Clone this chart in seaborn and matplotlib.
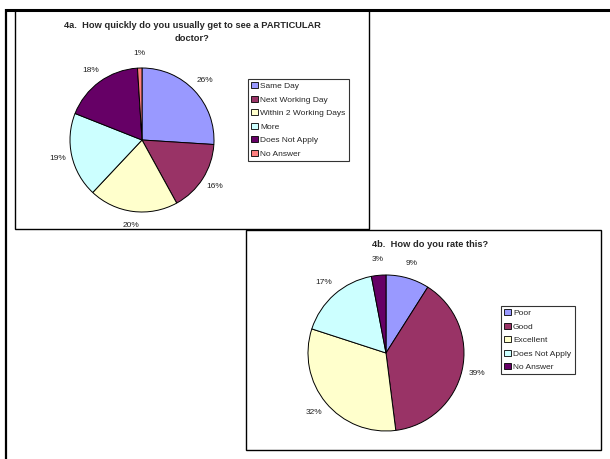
import matplotlib
matplotlib.use("Agg")
import matplotlib.pyplot as plt
import seaborn as sns
from matplotlib.patches import Patch, Rectangle
from matplotlib.lines import Line2D

sns.set_style("white")
plt.rcParams['font.family'] = ['Liberation Sans', 'DejaVu Sans']

# ---- data ----
title_a = "4a.  How quickly do you usually get to see a PARTICULAR\ndoctor?"
cats_a = ["Same Day", "Next Working Day", "Within 2 Working Days", "More",
          "Does Not Apply", "No Answer"]
vals_a = [26, 16, 20, 19, 18, 1]
cols_a = ["#9999FF", "#993366", "#FFFFCC", "#CCFFFF", "#660066", "#FF8080"]

title_b = "4b.  How do you rate this?"
cats_b = ["Poor", "Good", "Excellent", "Does Not Apply", "No Answer"]
vals_b = [9, 39, 32, 17, 3]
cols_b = ["#9999FF", "#993366", "#FFFFCC", "#CCFFFF", "#660066"]

W, H = 610, 459
fig = plt.figure(figsize=(W / 100, H / 100), dpi=100)
fig.patch.set_facecolor("white")


def fx(x):
    return x / W


def fy(y):
    return 1 - y / H


def box(x0, y0, x1, y1, lw=1.0):
    fig.add_artist(Rectangle((fx(x0), fy(y1)), fx(x1) - fx(x0), fy(y0) - fy(y1),
                             transform=fig.transFigure, fill=False,
                             edgecolor="black", linewidth=lw, zorder=0))


def line(x0, y0, x1, y1, lw):
    fig.add_artist(Line2D([fx(x0), fx(x1)], [fy(y0), fy(y1)],
                          transform=fig.transFigure, color="black",
                          linewidth=lw, solid_capstyle="butt"))


# page frame
line(5, 9.5, 610, 9.5, 2.2)
line(6, 9, 6, 459, 1.6)

# chart boxes
box(15, 10, 369, 229)
box(246, 230, 601, 450)


def pie(cx, cy, r, vals, cols, cats, legend_xy, title, title_xy):
    k = 1.3
    half = r * k
    ax = fig.add_axes([fx(cx - half), fy(cy + half), 2 * half / W, 2 * half / H])
    ax.pie(vals, colors=cols, startangle=90, counterclock=False, radius=1,
           autopct=lambda p: f"{p:.0f}%", pctdistance=1.2,
           wedgeprops=dict(edgecolor="black", linewidth=0.7),
           textprops=dict(fontsize=6, color="#222222"))
    ax.set_xlim(-k, k)
    ax.set_ylim(-k, k)
    ax.set_aspect("equal")
    ax.axis("off")
    handles = [Patch(facecolor=c, edgecolor="black", linewidth=0.6) for c in cols]
    leg = fig.legend(handles, cats, loc="upper left",
                     bbox_to_anchor=(fx(legend_xy[0]), fy(legend_xy[1])),
                     bbox_transform=fig.transFigure, fontsize=6,
                     frameon=True, fancybox=False, borderaxespad=0,
                     handlelength=0.75, handleheight=0.75, handletextpad=0.3,
                     labelspacing=0.66, borderpad=0.4)
    leg.get_frame().set_edgecolor("black")
    leg.get_frame().set_linewidth(0.8)
    fig.text(fx(title_xy[0]), fy(title_xy[1]), title, ha="center", va="center",
             fontsize=6.7, fontweight="bold", linespacing=1.5)


pie(142, 140, 72, vals_a, cols_a, cats_a, (248, 79), title_a, (192, 32))
pie(386, 353, 78, vals_b, cols_b, cats_b, (501, 306), title_b, (430, 245))

fig.savefig("out.png", dpi=100, facecolor="white")
